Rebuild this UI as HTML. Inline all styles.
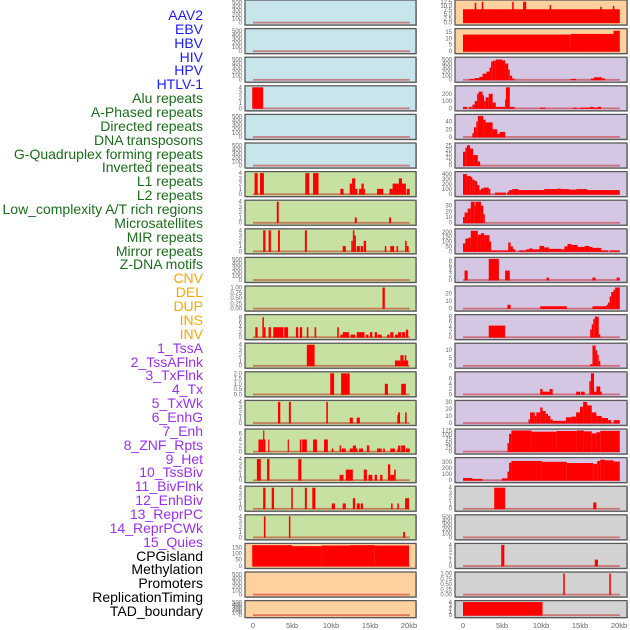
<!DOCTYPE html>
<html><head><meta charset="utf-8"><style>
html,body{margin:0;padding:0;background:#fff;}
#wrap{position:relative;width:630px;height:630px;overflow:hidden;font-family:"Liberation Sans",sans-serif;}
.lab{position:absolute;right:427px;font-size:14px;line-height:14px;white-space:nowrap;}
</style></head><body>
<div id="wrap">
<svg id="svg" width="630" height="630" style="position:absolute;left:0;top:0"></svg>
</div>
<script>
const labelNames = ["AAV2","EBV","HBV","HIV","HPV","HTLV-1","Alu repeats","A-Phased repeats","Directed repeats","DNA transposons","G-Quadruplex forming repeats","Inverted repeats","L1 repeats","L2 repeats","Low_complexity A/T rich regions","Microsatellites","MIR repeats","Mirror repeats","Z-DNA motifs","CNV","DEL","DUP","INS","INV","1_TssA","2_TssAFlnk","3_TxFlnk","4_Tx","5_TxWk","6_EnhG","7_Enh","8_ZNF_Rpts","9_Het","10_TssBiv","11_BivFlnk","12_EnhBiv","13_ReprPC","14_ReprPCWk","15_Quies","CPGisland","Methylation","Promoters","ReplicationTiming","TAD_boundary"];
const labelGroups = [0,0,0,0,0,0,1,1,1,1,1,1,1,1,1,1,1,1,1,2,2,2,2,2,3,3,3,3,3,3,3,3,3,3,3,3,3,3,3,4,4,4,4,4];
const groupColors = ["#1a1aff","#1a6e1a","#ffa500","#9b30f0","#000000"];
const xTicks = [0,5,10,15,20];
const xTickLabels = ["0","5kb","10kb","15kb","20kb"];
const T500=[0,100,200,300,400,500];
const leftBg = ["b","b","b","b","b","b","g","g","g","g","g","g","g","g","g","g","g","g","g","p","p","p"];
const rightBg = ["p","p","u","u","u","u","u","u","u","u","u","u","u","u","u","u","u","r","r","r","r","r"];
const leftYMax = [520,520,520,4,520,520,4,4,4,520,1,8.5,4,2,4,7,4,4,4,170,520,520];
const leftTicks = [T500,T500,T500,[0,1,2,3,4],T500,T500,[0,1,2,3,4],[0,1,2,3,4],[0,1,2,3,4],T500,[0,0.25,0.5,0.75,1],[0,2,4,6,8],[0,1,2,3,4],[0,0.5,1,1.5,2],[0,1,2,3,4],[0,2,4,6],[0,1,2,3,4],[0,1,2,3,4],[0,1,2,3,4],[0,50,100,150],T500,T500];
const leftBars = [
[],[],[],
[[-0.1,1.3,4]],
[],[],
[[0.2,0.6,4],[0.9,1.4,4],[6.7,7.2,4],[7.7,8.4,4],[11.2,11.6,1],[12.4,12.7,2],[12.7,13.1,3],[13.1,13.4,1],[13.6,13.9,1],[13.9,14.2,2],[14.2,14.3,1],[15.9,16.7,1],[17.5,17.9,1],[17.9,18.4,2],[18.4,18.7,2],[18.7,19.1,3],[19.1,19.6,2],[19.7,20.1,1]],
[[3.05,3.3,4],[13.05,13.3,1],[17.45,17.7,1]],
[[1.3,1.6,4],[2.0,2.3,4],[3.2,3.45,4],[6.65,6.9,4],[11.5,11.9,1],[12.6,12.8,2],[12.8,13.0,4],[13.0,13.2,3],[13.3,13.7,1],[13.8,14.1,1],[14.2,14.5,2],[16.9,17.1,1],[17.6,18.1,1],[18.4,18.6,1],[19.5,19.7,2],[19.7,19.95,1]],
[],
[[16.6,16.9,1]],
[[0.3,0.6,4],[1.2,1.4,8],[1.4,1.6,4],[2.0,2.3,4],[2.6,3.9,4],[4.0,4.5,4],[5.5,5.8,4],[6.0,6.3,4],[6.9,7.1,4],[7.9,8.1,4],[10.8,11.0,4],[11.2,11.5,1],[11.5,12.3,2],[12.5,13.1,1],[13.3,13.6,2],[13.6,14.3,2],[14.5,14.8,1],[15.0,15.3,2],[15.6,15.9,2],[16.0,16.5,1],[17.2,17.5,1],[17.6,18.0,2],[18.2,18.6,1],[18.6,19.0,2],[19.1,19.5,2],[19.6,19.9,3]],
[[6.9,7.9,4],[18.2,18.9,1],[18.9,19.3,2],[19.3,19.5,1],[19.45,19.65,2],[19.6,19.9,1]],
[[9.9,10.4,2],[11.3,12.4,2],[16.9,17.3,1],[19.0,19.6,1]],
[[3.2,3.5,4],[4.6,4.85,4],[9.4,9.6,4],[12.4,12.8,1],[13.3,13.7,1],[18.5,18.7,1.5],[18.6,18.85,2],[19.5,19.7,2]],
[[0.7,1.1,4],[1.1,1.3,4],[1.3,1.4,7],[1.4,1.6,4],[1.95,2.1,4],[4.45,4.6,4],[6.0,6.2,4],[6.3,6.9,4],[7.7,8.2,4],[9.1,9.6,4],[10.1,10.3,1],[11.1,11.3,2],[11.4,11.9,1],[12.4,12.8,1],[12.8,13.2,2],[13.2,13.4,1],[13.6,14.1,1],[14.6,14.9,2],[15.9,16.5,1],[16.7,16.9,1],[17.6,18.2,1],[18.5,18.9,1],[18.6,18.9,2],[19.0,19.5,2],[19.6,20.1,1]],
[[0.5,1.0,4],[1.8,2.1,4],[5.8,6.2,4],[11.1,11.6,1],[11.9,12.8,2],[14.2,14.6,2],[14.8,15.3,1],[15.6,15.9,1],[16.3,16.6,1],[17.3,17.6,3],[17.6,18.1,1],[18.1,18.3,2]],
[[1.3,1.6,4],[2.4,2.7,4],[4.9,5.1,4],[6.65,6.9,4],[7.6,8.0,4],[10.1,10.5,1],[11.5,11.9,1],[12.8,13.1,2],[13.3,13.7,1],[13.8,14.1,1],[17.7,17.9,1],[18.5,18.7,1],[19.5,20.0,2]],
[[1.4,1.6,4],[4.6,4.8,4],[19.25,19.5,1]],
[[-0.1,5.0,168],[5.0,8.8,160],[8.8,12.5,165],[12.5,15.6,168],[15.6,20.0,165]],
[],[]
];
const rightYMax = [12.7,16.5,520,290,55,26,420,37,215,9,28,8.2,13.5,8,30,125,350,4,520,4,1,4];
const rightTicks = [[0,2.5,5,7.5,10,12.5],[0,5,10,15],T500,[0,100,200],[0,20,40],[0,5,10,15,20,25],[0,100,200,300,400],[0,10,20,30],[0,50,100,150,200],[0,2,4,6,8],[0,10,20],[0,2,4,6,8],[0,5,10],[0,2,4,6],[0,10,20,30],[0,25,50,75,100,125],[0,100,200,300],[0,1,2,3,4],T500,[0,1,2,3,4],[0,0.25,0.5,0.75,1],[0,1,2,3,4]];
const rightBars = [
[[0,20.1,8],[1.5,1.7,12],[2.4,2.6,12.5],[6.3,6.5,12.5],[7.7,8.1,12.5],[11.1,11.3,10.5],[17.6,17.8,9.5],[19.2,19.4,10]],
[[0,13.8,13],[13.8,19.3,13.5],[19.3,20.1,16]],
[[0.8,1.5,20],[1.5,2.1,40],[2.1,2.5,70],[2.5,3.0,150],[3.0,3.4,200],[3.4,3.6,300],[3.6,3.8,450],[3.8,4.2,470],[4.2,5.0,500],[5.0,5.4,480],[5.4,5.8,400],[5.8,6.0,250],[6.0,6.3,100],[6.3,6.6,30],[13.8,14.5,20],[16.4,16.8,30],[16.8,17.8,60],[17.8,18.2,30]],
[[0,0.5,20],[0.8,1.1,20],[1.2,1.5,50],[1.5,1.8,100],[1.8,2.0,200],[2.0,2.5,230],[2.5,2.7,180],[2.7,2.9,100],[2.9,3.3,150],[3.3,3.8,200],[3.8,4.2,80],[4.2,5.4,20],[5.4,5.5,120],[5.5,6.0,290],[6.0,6.6,20],[9.9,10.6,10],[14.1,14.6,10],[15.0,16.3,10],[16.3,16.7,20],[16.7,17.3,10],[17.3,17.7,20]],
[[1.2,1.4,10],[1.4,1.7,25],[1.7,1.9,40],[1.9,2.6,55],[2.6,2.9,45],[2.9,3.8,38],[3.8,4.4,20],[4.4,4.7,8],[4.7,5.4,13]],
[[0,0.3,17],[0.3,0.5,22],[0.5,0.9,25],[0.9,1.3,21],[1.3,1.9,13],[1.9,2.2,5]],
[[0,0.5,400],[0.5,1.0,360],[1.0,1.2,340],[1.2,1.5,290],[1.5,1.8,260],[1.8,2.1,180],[2.1,2.3,80],[2.3,2.6,110],[2.6,3.3,130],[3.3,3.5,100],[4.1,5.5,30],[5.7,5.9,50],[5.9,6.3,80],[6.3,7.1,100],[7.1,10.4,80],[10.4,12.1,100],[12.1,12.5,110],[12.5,13.6,100],[13.6,14.5,90],[14.5,15.9,100],[15.9,20.1,80]],
[[0,0.2,10],[0.2,0.6,18],[0.6,1.0,25],[1.0,1.5,37],[1.5,1.6,30],[1.6,2.3,37],[2.3,2.6,30],[2.6,2.8,15]],
[[0,0.3,80],[0.3,0.7,130],[0.7,1.0,140],[1.0,1.9,210],[1.9,2.3,170],[2.3,2.7,185],[2.7,3.4,165],[3.4,3.6,100],[3.6,5.8,10],[5.8,6.1,90],[6.1,6.4,50],[6.4,6.7,20],[7.2,8.1,10],[8.1,8.5,20],[8.5,8.9,30],[8.9,9.8,20],[9.8,10.4,55],[10.4,11.0,40],[11.0,12.6,25],[12.6,13.0,20],[13.0,13.4,50],[13.4,13.9,75],[13.9,14.7,65],[14.7,15.6,45],[15.6,16.2,55],[16.2,16.6,45],[16.6,17.7,35],[17.7,18.6,10],[18.8,20.1,10]],
[[0.2,0.6,4],[3.3,4.6,9],[5.4,6.0,4],[10.7,11.0,1],[16.6,17.0,1],[19.7,20.1,1]],
[[5.7,6.1,5],[9.9,13.3,3],[16.6,18.4,3],[18.4,18.6,5],[18.6,18.8,8],[18.8,19.0,16],[19.0,19.3,22],[19.3,19.5,25],[19.5,20.1,28]],
[[3.3,5.4,4.5],[16.3,16.5,3],[16.5,16.7,5],[16.7,16.9,7],[16.9,17.4,8],[17.4,17.6,1]],
[[16.3,16.6,1],[16.6,17.0,13],[17.0,17.2,10],[17.2,17.4,7],[17.4,17.6,3]],
[[9.9,10.2,2],[10.2,11.1,1],[11.1,11.5,2],[14.5,15.0,1],[15.1,15.6,1],[16.2,16.4,5],[16.4,16.8,8],[16.8,17.1,1],[17.1,17.6,3],[17.6,17.8,1]],
[[8.4,8.6,5],[8.6,9.2,15],[9.2,9.4,10],[9.4,9.9,15],[9.9,10.2,22],[10.2,10.6,17],[10.6,10.9,13],[10.9,11.2,10],[11.2,11.5,5],[11.5,13.2,3],[13.2,13.9,8],[13.9,14.5,9],[14.5,15.0,15],[15.0,15.4,23],[15.4,15.9,30],[15.9,16.5,25],[16.5,17.1,15],[17.1,17.8,10],[17.8,18.6,7],[18.6,19.0,4],[19.3,20.1,4]],
[[5.7,5.9,50],[5.9,6.2,105],[6.2,8.8,125],[8.8,12.0,118],[12.0,14.6,122],[14.6,15.5,125],[15.5,16.5,120],[16.5,17.1,108],[17.1,17.6,115],[17.6,20.1,123]],
[[0,1.2,35],[1.2,2.5,20],[5.0,5.7,30],[5.7,5.9,140],[5.9,6.2,290],[6.2,10.1,320],[10.1,13.3,305],[13.3,16.7,285],[16.7,17.2,270],[17.2,17.6,320],[17.6,18.2,340],[18.2,19.3,330],[19.3,20.1,310]],
[[4.0,5.4,4],[16.7,17.1,1.2]],
[],
[[4.9,5.3,4],[16.9,17.3,1.2]],
[[12.85,13.05,1],[18.75,18.95,1]],
[[0,10.2,4]]
];
const BG={b:"#c9e5ec",g:"#c7e1a3",p:"#ffd19e",u:"#d5c6e3",r:"#d2d2d2"};
const NS="http://www.w3.org/2000/svg";
const svg=document.getElementById('svg');
const wrap=document.getElementById('wrap');
function mk(tag,attrs,parent){const e=document.createElementNS(NS,tag);for(const k in attrs)e.setAttribute(k,attrs[k]);(parent||svg).appendChild(e);return e;}
function fmt(v,ticks){
  if(ticks.includes(0.25))return v.toFixed(2);
  if(ticks.includes(2.5)||ticks.includes(0.5))return v.toFixed(1);
  return String(v);
}
function panel(side,i){
  const top=i*28.6, h=(i===21)?17:25;
  const px=side==='L'?245:455, pw=side==='L'?171:172, x0=side==='L'?253:463;
  const ymax=side==='L'?leftYMax[i]:rightYMax[i];
  const ticks=side==='L'?leftTicks[i]:rightTicks[i];
  const bars=side==='L'?leftBars[i]:rightBars[i];
  const bg=side==='L'?leftBg[i]:rightBg[i];
  const xs=kb=>x0+kb*7.8;
  const bottom=top+h-2.5, span=h-4;
  const ys=v=>bottom-v/ymax*span;
  const g=mk('g',{});
  
  
  mk('rect',{x:px+1,y:top+1,width:pw,height:h,fill:'#bbb'},g);
  const r=mk('rect',{x:px,y:top,width:pw,height:h,fill:BG[bg],stroke:'#5a5a5a','stroke-width':1.3},g);
  
  
  for(const t of ticks){
    const tx=mk('text',{x:px-3,y:ys(t)+2,'font-size':6,'text-anchor':'end',fill:'#666','font-family':'Liberation Sans, sans-serif'},g);
    tx.textContent=fmt(t,ticks);
  }
  const base=mk('rect',{x:xs(0),y:ys(0)-0.8,width:xs(20.1)-xs(0),height:1.8,fill:'rgba(190,0,0,0.45)'},g);
  
  
  for(const b of bars){
    const y1=Math.max(ys(b[2]),top+0.8);
    const br=mk('rect',{x:xs(b[0]),y:y1,width:Math.max(xs(b[1])-xs(b[0]),1.2),height:ys(0)-y1+0.5,fill:'#ff0000'},g);
    
    
  }
}
for(let i=0;i<22;i++){panel('L',i);panel('R',i);}
for(const side of [253,463]){
  xTicks.forEach((t,k)=>{
    const tx=mk('text',{x:side+t*7.8,y:628,'font-size':7.5,'text-anchor':'middle',fill:'#666','font-family':'Liberation Sans, sans-serif'});
    
    
    tx.textContent=xTickLabels[k];
  });
}
labelNames.forEach((n,k)=>{
  const d=document.createElement('div');
  d.className='lab';
  d.style.top=(15+k*13.86-7)+'px';
  d.style.color=groupColors[labelGroups[k]];
  
  
  d.textContent=n;
  wrap.appendChild(d);
});
</script>
</body></html>
